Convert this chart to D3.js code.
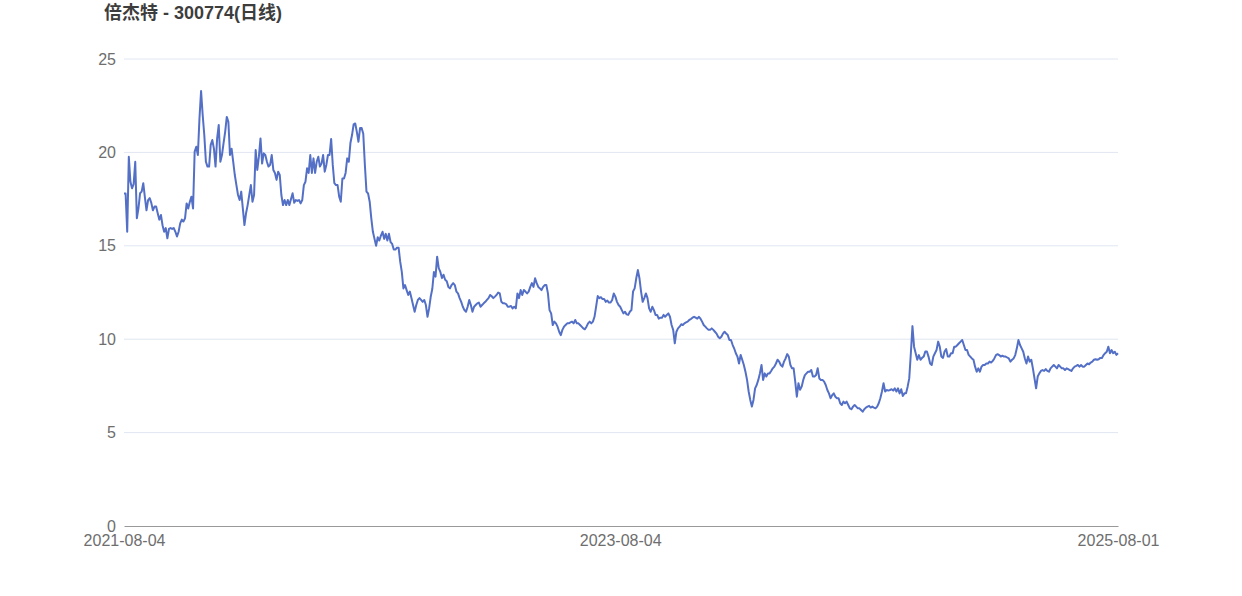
<!DOCTYPE html>
<html>
<head>
<meta charset="utf-8">
<script src="https://cdn.jsdelivr.net/npm/d3@7/dist/d3.min.js"></script>
<style>
  html, body { margin: 0; padding: 0; background: #ffffff; }
  svg { display: block; }
  text { font-family: "Liberation Sans", Arial, "Noto Sans CJK SC", sans-serif; }
</style>
</head>
<body>
<svg id="chart" width="1242" height="596"></svg>
<script>
const titleText = "倍杰特 - 300774(日线)";
const xTickLabels = ["2021-08-04", "2023-08-04", "2025-08-01"];
const yTicks = [0, 5, 10, 15, 20, 25];

// daily closes, in chronological chunks
const close1 = [17.8,17.8,15.75,19.77,18.43,18.08,18.3,19.5,16.47,17.0,17.81,17.9,18.35,17.6,16.9,17.45,17.55,17.3,16.9,17.1,
  17.1,16.74,16.4,16.65,16.1,15.75,15.95,15.4,15.9,15.95,15.9,15.95,15.75,15.5,15.75,16.2,16.4,16.3,16.47,17.27,
  17.0,17.36,17.63,17.0,20.04,20.3,19.86,21.82,23.29,22.0,20.93,19.5,19.24,19.24,20.4,20.66,20.2,19.24,20.75,21.47,
  19.5,19.86,20.5,21.1,21.9,21.64,19.86,20.2,19.5,18.79,18.25,17.72,17.45,17.9,17.0,16.11,16.74,17.18,17.72,18.25,
  17.36,17.72,20.13,19.06,19.77,20.75,19.4,19.95,19.86,19.5,19.24,19.33,19.86,19.06,18.9,18.53,18.97,18.79,17.72,17.18,
  17.45,17.18,17.45,17.18,17.5,17.81];
const close2 = [17.3,17.45,17.4,17.45,17.27,17.45,18.25,18.43,
  19.15,18.9,19.86,18.9,19.68,18.9,19.5,19.77,19.24,19.4,19.86,18.97,
  19.33,19.86,19.86,20.72,19.33,18.35,18.25,18.25,17.63,17.36,
  18.6,18.6,18.9,19.68,19.5,20.5,
  20.93,21.5,21.55,21.1,20.57,21.3,21.3,21.0,19.33,17.9,
  17.8,17.36,16.47,15.75,15.37,15.0,15.46,15.28,15.55,15.75,15.37,15.64,15.28,15.64,15.2,15.1,14.8,14.8,14.9,14.9,
  14.15,13.6,12.72,12.9,12.63,12.37,12.55,12.2,11.83,11.47,11.83,12.1,12.2,12.1,12.0,12.1,11.83,11.2,11.65,12.27,
  12.7,13.6,13.35,14.42,13.8,13.6,13.27,13.45,13.18,13.1,12.8,12.72,12.9];
const close3 = [13.0,12.9,12.55,12.45,12.2,12.0,11.74,11.56,11.47,11.74,
  12.1,11.83,11.47,
  11.74,11.83,11.92,11.96,11.74,11.83,11.92,12.0,12.1,12.2,12.37,12.3,12.2,12.28,12.37,12.5,12.45,12.0,11.92,11.92,
  11.88,11.74,11.74,11.78,11.65,11.74,11.65,
  12.45,12.2,12.63,12.37,
  12.63,12.55,12.45,12.55,12.8,13.0,12.8,
  13.26,13.0,12.8,12.72,
  12.63,12.8,12.9,12.9,
  12.45,11.56,11.38,
  10.76,10.94,10.85,10.67,10.4,10.22,10.5,10.67,10.76,10.85,10.85,10.9,10.94,10.85,11.03,10.85,10.85,10.76,10.67,10.58,
  10.53,10.67,10.85,10.94,10.85,10.94,11.2,11.74,12.31,12.2,12.25,12.15,12.15,12.0,12.07,11.96,11.96,12.1,12.45,12.28,
  12.0,11.83];
const close4 = [11.74,11.56,11.38,11.47,11.33,11.3,11.47,11.56,12.55,
  12.72,13.26,13.7,13.26,12.55,12.0,12.2,12.45,12.2,11.65,
  11.47,11.74,11.56,11.3,11.3,11.1,11.15,11.15,11.3,11.2,11.3,11.38,11.2,10.76,10.5,9.78,10.4,10.58,10.67,10.8,
  10.76,10.85,10.9,10.94,11.03,11.08,11.15,11.2,11.15,11.1,11.2,11.1,10.94,10.76,10.67,10.58,10.5,10.5,10.58,10.5,
  10.4,10.3,10.13,10.05,10.13,10.3,10.4,10.3,10.22,9.96,9.96,9.7,9.5,9.25,9.07,8.7,9.16,8.9,8.62,8.26,7.82,
  7.2,6.75,6.39,6.75,7.37,7.55,
  7.82,8.17,8.62,
  7.82,8.17,8.0,8.17,
  8.17,8.3,8.44,8.53,8.7,8.9,8.8,8.62,8.53,8.8,8.97,9.2];
const close5 = [9.07,8.62,8.44,8.44,7.73,
  6.92,7.64,7.29,
  7.46,7.82,8.08,8.17,8.26,8.26,8.35,8.0,8.0,8.08,8.44,7.9,7.82,7.82,7.73,7.55,7.28,7.1,6.84,7.0,
  7.1,6.92,6.84,6.84,6.57,6.48,6.66,6.57,6.66,6.48,6.3,6.25,6.39,6.48,6.39,6.3,6.3,6.21,6.12,6.25,
  6.34,6.39,6.43,6.34,6.39,6.34,6.3,6.39,6.57,6.84,7.2,
  7.64,7.2,7.28,7.25,
  7.28,7.32,7.25,7.37,7.2,7.37,7.1,7.32,6.96,7.1,7.1,7.46,7.9,
  9.25,10.7,9.6,9.25,8.9,
  9.15,8.9,9.0,9.07,9.34,9.34,9.07,8.7,8.62,9.07,9.25,9.42,9.87,9.6,9.07,9.0,9.34,9.47,9.07,9.07,9.25,9.25];
const close6 = [9.6,9.6,9.69,9.78,9.87,9.96,9.69,9.42,9.42,9.16,9.07,8.97,8.9,8.53,8.26,8.44,8.26,8.53,8.62,8.62,
  8.7,8.7,8.8,8.75,8.84,8.97,9.15,9.2,9.15,9.07,9.12,9.07,9.07,9.02,8.97,8.8,8.9,8.97,9.15,
  9.51,9.96,9.69,9.51,9.33,8.97,8.7,9.07,8.8,8.9,8.44,
  7.9,7.37,8.0,
  8.17,8.3,8.35,8.3,8.4,8.3,8.26,8.44,8.53,8.62,8.53,8.44,8.62,8.53,8.44,8.44,8.35,8.44,8.4,8.35,
  8.3,8.44,8.53,8.57,8.62,8.53,8.62,8.53,8.53,8.62,8.7,8.66,8.75,8.8,8.9,8.93,8.9,8.93,9.0,9.0,
  9.15,9.25,9.33,
  9.6,9.25,9.42,9.25,9.33,9.16,9.25];

const closes = [].concat(close1, close2, close3, close4, close5, close6);
const n = closes.length;
const idx = d3.range(n);

const svg = d3.select("#chart");
const plotLeft = 124, plotRight = 1118, plotTop = 59, plotBottom = 526;

const x = d3.scalePoint().domain(idx).range([plotLeft, plotRight]);
const y = d3.scaleLinear().domain([0, 25]).range([plotBottom, plotTop]);

// title
svg.append("text")
  .attr("x", 104).attr("y", 19)
  .attr("font-size", 18).attr("font-weight", "bold")
  .attr("fill", "#3d3d3d")
  .text(titleText);

// grid lines
svg.append("g").selectAll("line")
  .data(yTicks.filter(d => d !== 0))
  .join("line")
  .attr("x1", plotLeft).attr("x2", plotRight)
  .attr("y1", d => y(d)).attr("y2", d => y(d))
  .attr("stroke", "#e0e6f1").attr("stroke-width", 1);

// y axis labels
const yAxis = d3.axisLeft(y).tickValues(yTicks).tickSize(0).tickPadding(8);
const gy = svg.append("g").attr("transform", `translate(${plotLeft},0)`).call(yAxis);
gy.select(".domain").remove();
gy.selectAll("text").attr("font-size", 16).attr("fill", "#6e6e6e")
  .attr("font-family", '"Liberation Sans", Arial, sans-serif');

// x axis
const mid = Math.floor((n - 1) / 2);
const xTickIdx = [0, mid, n - 1];
const xAxis = d3.axisBottom(x).tickValues(xTickIdx)
  .tickFormat((d, i) => xTickLabels[i]).tickSize(0).tickPadding(9);
const gx = svg.append("g").attr("transform", `translate(0,${plotBottom})`).call(xAxis);
gx.select(".domain").attr("stroke", "#999999").attr("stroke-width", 1);
gx.selectAll("text").attr("font-size", 16).attr("fill", "#6e6e6e")
  .attr("font-family", '"Liberation Sans", Arial, sans-serif');

// price line
const line = d3.line().x((d, i) => x(i)).y(d => y(d));
svg.append("path")
  .datum(closes)
  .attr("fill", "none")
  .attr("stroke", "#5470c6")
  .attr("stroke-width", 2)
  .attr("stroke-linejoin", "round")
  .attr("d", line);
</script>
</body>
</html>
